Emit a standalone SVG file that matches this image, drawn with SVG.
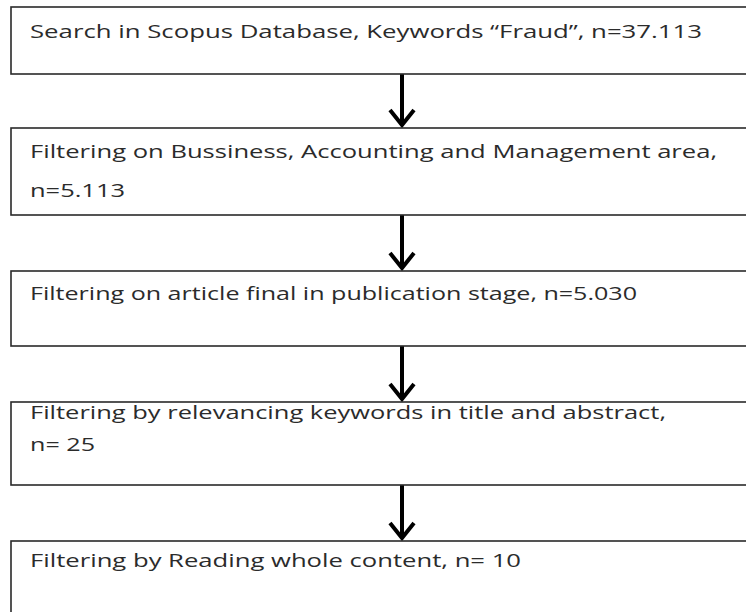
<svg xmlns="http://www.w3.org/2000/svg" width="746" height="612" viewBox="0 0 746 612">
  <style>
    .box { fill: #ffffff; stroke: #2a2a2a; stroke-width: 1.6; }
    .lbl { font-family: "Open Sans", "Liberation Sans", sans-serif; font-size: 19px; fill: #2b2b2b; }
    .link { stroke: #000000; stroke-width: 4; fill: none; }
    .head { stroke: #000000; stroke-width: 4; fill: none; stroke-linejoin: miter; }
  </style>
  <rect width="746" height="612" fill="#ffffff"/>

  <g id="connectors">
    <line class="link" x1="402" y1="74" x2="402" y2="125"/>
    <polyline class="head" points="390,110 402,125 414,110"/>
    <line class="link" x1="402" y1="215" x2="402" y2="268"/>
    <polyline class="head" points="390,253 402,268 414,253"/>
    <line class="link" x1="402" y1="346" x2="402" y2="399"/>
    <polyline class="head" points="390,384 402,399 414,384"/>
    <line class="link" x1="402" y1="485" x2="402" y2="538"/>
    <polyline class="head" points="390,523 402,538 414,523"/>
  </g>

  <g id="search">
    <rect class="box" x="11" y="7" width="760" height="67"/>
    <text class="lbl" x="30" y="38" textLength="672" lengthAdjust="spacingAndGlyphs">Search in Scopus Database, Keywords “Fraud”, n=37.113</text>
  </g>

  <g id="filter-area">
    <rect class="box" x="11" y="128" width="760" height="87"/>
    <text class="lbl" x="30" y="158" textLength="687" lengthAdjust="spacingAndGlyphs">Filtering on Bussiness, Accounting and Management area,</text>
    <text class="lbl" x="30" y="197" textLength="95" lengthAdjust="spacingAndGlyphs">n=5.113</text>
  </g>

  <g id="filter-stage">
    <rect class="box" x="11" y="271" width="760" height="75"/>
    <text class="lbl" x="30" y="300" textLength="607" lengthAdjust="spacingAndGlyphs">Filtering on article final in publication stage, n=5.030</text>
  </g>

  <g id="filter-keywords">
    <rect class="box" x="11" y="402" width="760" height="83"/>
    <text class="lbl" x="30" y="419" textLength="636" lengthAdjust="spacingAndGlyphs">Filtering by relevancing keywords in title and abstract,</text>
    <text class="lbl" x="30" y="451" textLength="65" lengthAdjust="spacingAndGlyphs">n= 25</text>
  </g>

  <g id="filter-reading">
    <rect class="box" x="11" y="541" width="760" height="90"/>
    <text class="lbl" x="30" y="567" textLength="491" lengthAdjust="spacingAndGlyphs">Filtering by Reading whole content, n= 10</text>
  </g>
</svg>
